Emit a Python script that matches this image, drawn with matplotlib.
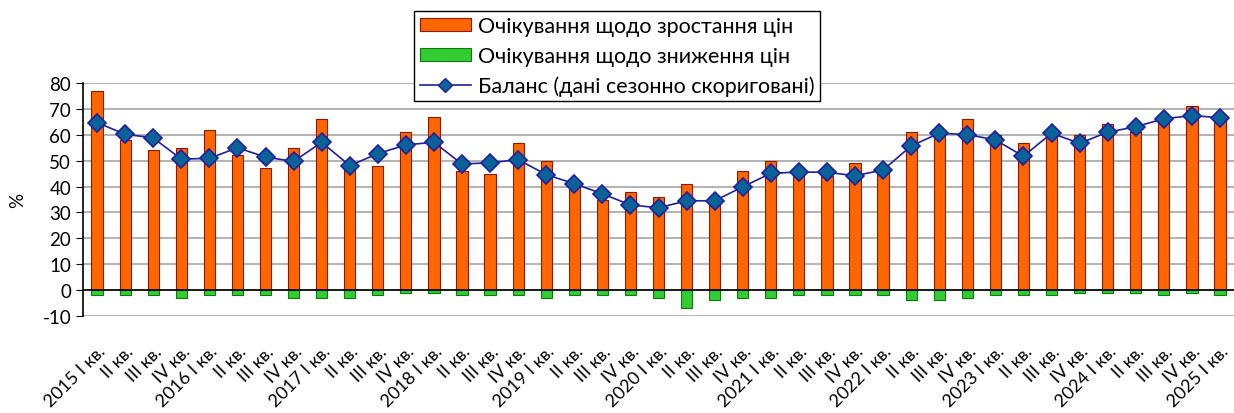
import numpy as np
import matplotlib
matplotlib.use('Agg')
import matplotlib.pyplot as plt
import matplotlib.transforms as mtransforms
from matplotlib.patches import Patch
from matplotlib.lines import Line2D

plt.rcParams['font.family'] = ['Lato', 'DejaVu Sans']
plt.rcParams['axes.unicode_minus'] = False

# quarter labels 2015 I .. 2025 I
quarters = []
for yr in range(2015, 2026):
    for q in ['I', 'II', 'III', 'IV']:
        if q == 'I':
            quarters.append(f'{yr} I кв.')
        else:
            quarters.append(f'{q} кв.')
quarters = quarters[:41]

growth = [77, 58, 54, 55, 62, 52, 47, 55, 66, 48, 48, 61,
          67, 46, 45, 57, 50, 41, 35, 38, 36, 41, 34, 46, 50, 46,
          44, 49, 46, 61, 60, 66, 60, 57, 60, 60, 64, 61, 66, 71, 67]
decline = [-2, -2, -2, -3, -2, -2, -2, -3, -3, -3, -2, -1,
           -1, -2, -2, -2, -3, -2, -2, -2, -3, -7, -4, -3, -3, -2,
           -2, -2, -2, -4, -4, -3, -2, -2, -2, -1, -1, -1, -2, -1, -2]
balance = [64.7, 60.2, 58.8, 50.6, 50.9, 55.0, 51.4, 49.7, 57.1, 48.1, 52.7, 56.1,
           57.1, 48.7, 49.2, 50.4, 44.6, 41.1, 37.2, 32.9, 31.8, 34.5, 34.5, 39.9, 45.1, 45.6,
           45.5, 44.2, 46.4, 55.7, 60.6, 60.1, 58.0, 51.7, 60.6, 56.7, 61.0, 63.1, 66.2, 67.4, 66.6]

x = np.arange(len(quarters))

fig = plt.figure(figsize=(12.34, 4.14), dpi=100)
ax = fig.add_axes([0.0673, 0.2343, 0.9327, 0.5628])

ax.set_ylim(-10, 80)
ax.set_xlim(-0.5, len(quarters) - 0.5)
ax.set_yticks(range(-10, 81, 10))
ax.yaxis.grid(True, color='#a6a6a6', linewidth=1.2)
ax.set_axisbelow(True)

orange = '#ff6600'
green = '#33cc33'
ax.bar(x, growth, width=0.4, color=orange, edgecolor='#8b1a00', linewidth=0.8, zorder=2)
ax.bar(x, decline, width=0.4, color=green, edgecolor='#0a7a0a', linewidth=0.8, zorder=2)
ax.axhline(0, color='black', linewidth=1.2, zorder=3)
ax.plot(x, balance, color='#1f1fa0', linewidth=1.2, marker='D', markersize=9.5,
        markerfacecolor='#0a6396', markeredgecolor='#1f1fa0', markeredgewidth=1.2, zorder=4)

for s in ['top', 'right', 'bottom']:
    ax.spines[s].set_visible(False)
ax.spines['left'].set_color('black')
ax.spines['left'].set_linewidth(1.2)
ax.tick_params(axis='y', labelsize=13.5, length=5, direction='out', color='black')
ax.tick_params(axis='x', length=0, labelsize=13, pad=14)
ax.set_xticks(x)
ax.set_xticklabels(quarters, rotation=45, ha='right', va='center', rotation_mode='anchor')
# nudge rotated labels down/right like the original
shift = mtransforms.ScaledTranslation(0.06, -0.13, fig.dpi_scale_trans)
for lbl in ax.get_xticklabels():
    lbl.set_transform(lbl.get_transform() + shift)
ax.set_ylabel('%', fontsize=13.5, labelpad=12)

handles = [Patch(facecolor=orange, edgecolor='#8b1a00', linewidth=0.8),
           Patch(facecolor=green, edgecolor='#0a7a0a', linewidth=0.8),
           Line2D([], [], color='#1f1fa0', linewidth=1.2, marker='D', markersize=7,
                  markerfacecolor='#0a6396', markeredgecolor='#1f1fa0')]
labels = ['Очікування щодо зростання цін', 'Очікування щодо зниження цін',
          'Баланс (дані сезонно скориговані)']
leg = fig.legend(handles, labels, loc='upper center', bbox_to_anchor=(0.5, 0.972),
                 fontsize=15.5, frameon=True, fancybox=False, edgecolor='black',
                 framealpha=1, handlelength=2.4, handleheight=0.55, labelspacing=0.45,
                 borderpad=0.25, handletextpad=0.3, borderaxespad=0)
leg.get_frame().set_linewidth(1.0)

fig.savefig('out.png', dpi=100)
